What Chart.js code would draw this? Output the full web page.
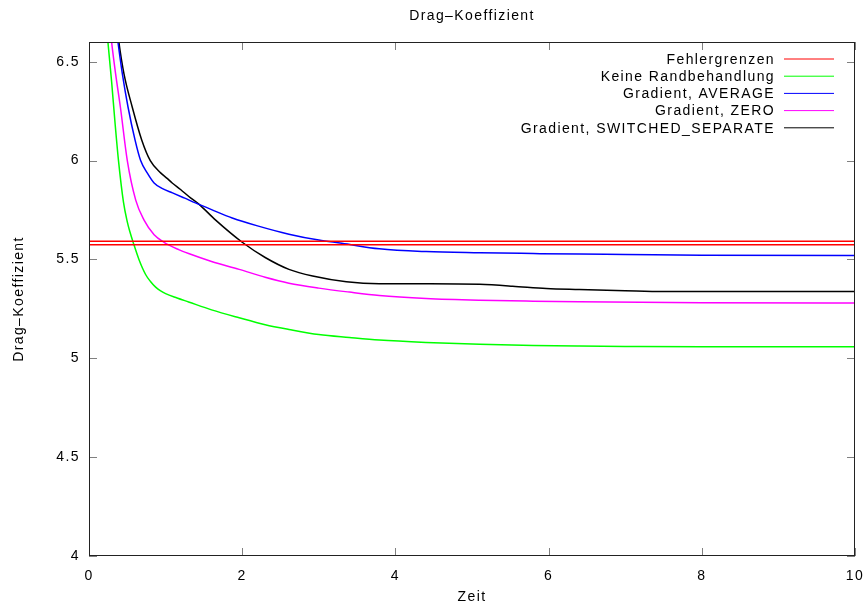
<!DOCTYPE html>
<html>
<head>
<meta charset="utf-8">
<title>Drag-Koeffizient</title>
<script src="https://cdn.jsdelivr.net/npm/chart.js@4.4.1/dist/chart.umd.min.js"></script>
<style>
  html, body { margin: 0; padding: 0; background: #fff; }
</style>
</head>
<body>
<canvas id="dragChart" width="868" height="609"></canvas>
<script>
// Drag coefficient over time for the different boundary treatments
const zeitKeine = [0.20, 0.247, 0.295, 0.34, 0.385, 0.45, 0.50, 0.53, 0.578, 0.652, 0.739, 0.80, 0.87, 0.93, 1.0, 1.15, 1.3, 1.6, 1.96, 2.3, 2.61, 3.0, 3.4, 3.79, 4.4, 5.1, 5.8, 6.4, 7.0, 8.0, 10];
const cwKeine   = [6.82, 6.6, 6.4, 6.19, 6.0, 5.79, 5.69, 5.645, 5.585, 5.50, 5.424, 5.39, 5.36, 5.342, 5.327, 5.305, 5.285, 5.245, 5.205, 5.17, 5.146, 5.12, 5.105, 5.092, 5.08, 5.071, 5.065, 5.062, 5.06, 5.058, 5.058];

const zeitAverage = [0.33, 0.378, 0.435, 0.51, 0.60, 0.674, 0.76, 0.85, 0.96, 1.09, 1.25, 1.39, 1.6, 1.87, 2.2, 2.61, 3.0, 3.3, 3.79, 4.4, 5.1, 5.8, 6.4, 7.0, 8.0, 10];
const cwAverage   = [6.75, 6.6, 6.44, 6.27, 6.106, 6.0, 5.938, 5.887, 5.858, 5.837, 5.81, 5.786, 5.752, 5.71, 5.67, 5.628, 5.598, 5.582, 5.554, 5.54, 5.534, 5.53, 5.527, 5.525, 5.521, 5.52];

const zeitZero = [0.25, 0.295, 0.347, 0.41, 0.50, 0.61, 0.717, 0.85, 0.98, 1.17, 1.3, 1.6, 1.96, 2.3, 2.61, 3.0, 3.4, 3.79, 4.4, 5.1, 5.8, 6.4, 7.2, 8.0, 10];
const cwZero   = [6.77, 6.6, 6.44, 6.27, 6.0, 5.80, 5.70, 5.625, 5.587, 5.55, 5.53, 5.49, 5.45, 5.41, 5.38, 5.355, 5.335, 5.318, 5.303, 5.294, 5.289, 5.286, 5.283, 5.281, 5.28];

const zeitSwitched = [0.345, 0.39, 0.456, 0.565, 0.687, 0.80, 0.935, 1.02, 1.086, 1.195, 1.33, 1.434, 1.65, 2.0, 2.3, 2.61, 2.92, 3.36, 3.79, 4.45, 5.1, 5.53, 5.97, 6.4, 7.0, 7.5, 10];
const cwSwitched   = [6.75, 6.6, 6.44, 6.27, 6.106, 6.0, 5.938, 5.91, 5.887, 5.854, 5.81, 5.78, 5.70, 5.587, 5.51, 5.45, 5.416, 5.387, 5.377, 5.377, 5.374, 5.365, 5.353, 5.348, 5.342, 5.338, 5.338];

// upper and lower error bound, drawn over the full time range
const fehlergrenzen = [5.592, 5.575];
const zeitBereich = [0, 10];

const xTickWerte = [0, 2, 4, 6, 8, 10];
const yTickWerte = [4, 4.5, 5, 5.5, 6, 6.5];

const FONT = { family: "'Liberation Sans', Arial, sans-serif", size: 14 };

function toPoints(xs, ys) {
  return xs.map((x, i) => ({ x: x, y: ys[i] }));
}

function curve(label, color, xs, ys) {
  return {
    label: label,
    data: toPoints(xs, ys),
    borderColor: color,
    borderWidth: 1.5,
    pointRadius: 0,
    cubicInterpolationMode: "monotone",
    fill: false
  };
}

const datasets = [
  curve("Fehlergrenzen", "#ff0000", zeitBereich, [fehlergrenzen[0], fehlergrenzen[0]]),
  curve("Fehlergrenzen", "#ff0000", zeitBereich, [fehlergrenzen[1], fehlergrenzen[1]]),
  curve("Keine Randbehandlung", "#00ff00", zeitKeine, cwKeine),
  curve("Gradient, AVERAGE", "#0000ff", zeitAverage, cwAverage),
  curve("Gradient, ZERO", "#ff00ff", zeitZero, cwZero),
  curve("Gradient, SWITCHED_SEPARATE", "#000000", zeitSwitched, cwSwitched)
];

// gnuplot style: wide letter spacing, frame with inward ticks, key in the top right
const gnuplotLook = {
  id: "gnuplotLook",
  beforeDraw(chart) {
    chart.ctx.letterSpacing = "1.4px";
  },
  afterDraw(chart) {
    const ctx = chart.ctx;
    const a = chart.chartArea;
    const xs = chart.scales.x;
    const ys = chart.scales.y;
    const tick = 8;

    ctx.save();
    ctx.lineWidth = 1;
    ctx.strokeStyle = "#808080";
    ctx.beginPath();
    xs.ticks.forEach((t, i) => {
      const px = Math.round(xs.getPixelForTick(i)) + 0.5;
      ctx.moveTo(px, a.bottom); ctx.lineTo(px, a.bottom - tick);
      ctx.moveTo(px, a.top); ctx.lineTo(px, a.top + tick);
    });
    ys.ticks.forEach((t, i) => {
      const py = Math.round(ys.getPixelForTick(i)) + 0.5;
      ctx.moveTo(a.left, py); ctx.lineTo(a.left + tick, py);
      ctx.moveTo(a.right, py); ctx.lineTo(a.right - tick, py);
    });
    ctx.stroke();

    ctx.strokeStyle = "#222";
    ctx.strokeRect(a.left + 0.5, a.top + 0.5, a.right - a.left - 1, a.bottom - a.top - 1);

    ctx.fillStyle = "#000";
    ctx.font = FONT.size + "px " + FONT.family;
    ctx.textBaseline = "middle";
    ctx.textAlign = "center";
    ctx.fillText("Drag\u2013Koeffizient", (a.left + a.right) / 2, 16);

    // key
    ctx.textAlign = "right";
    const seen = {};
    let row = 0;
    chart.data.datasets.forEach(ds => {
      if (seen[ds.label]) return;
      seen[ds.label] = true;
      const y = 59 + row * 17.2;
      ctx.fillText(ds.label, 775, y + 1);
      ctx.strokeStyle = ds.borderColor;
      ctx.beginPath();
      ctx.moveTo(784, y);
      ctx.lineTo(834, y);
      ctx.stroke();
      row++;
    });
    ctx.restore();
  }
};

const ctx = document.getElementById("dragChart").getContext("2d");
new Chart(ctx, {
  type: "line",
  data: { datasets: datasets },
  options: {
    responsive: false,
    animation: false,
    devicePixelRatio: 1,
    layout: { padding: { top: 42, right: 13, left: 0, bottom: 0 } },
    plugins: {
      legend: { display: false },
      title: { display: false },
      tooltip: { enabled: false }
    },
    scales: {
      x: {
        type: "linear",
        min: 0,
        max: 10,
        afterFit: s => {
          s.height = 53;
          // let the "10" label hang over the frame instead of shrinking the plot
          s.paddingLeft = 0;
          s.paddingRight = 0;
        },
        afterBuildTicks: s => { s.ticks = xTickWerte.map(v => ({ value: v })); },
        grid: { display: false, drawTicks: false },
        border: { display: false },
        ticks: { color: "#000", font: FONT, padding: 12, maxRotation: 0, callback: v => String(v) },
        title: { display: true, text: "Zeit", color: "#000", font: FONT, padding: 3 }
      },
      y: {
        type: "linear",
        min: 4,
        max: 6.6,
        afterFit: s => { s.width = 89; },
        afterBuildTicks: s => { s.ticks = yTickWerte.map(v => ({ value: v })); },
        grid: { display: false, drawTicks: false },
        border: { display: false },
        ticks: { color: "#000", font: FONT, padding: 9, callback: v => String(v) },
        title: { display: true, text: "Drag\u2013Koeffizient", color: "#000", font: FONT, padding: 11 }
      }
    }
  },
  plugins: [gnuplotLook]
});
</script>
</body>
</html>
